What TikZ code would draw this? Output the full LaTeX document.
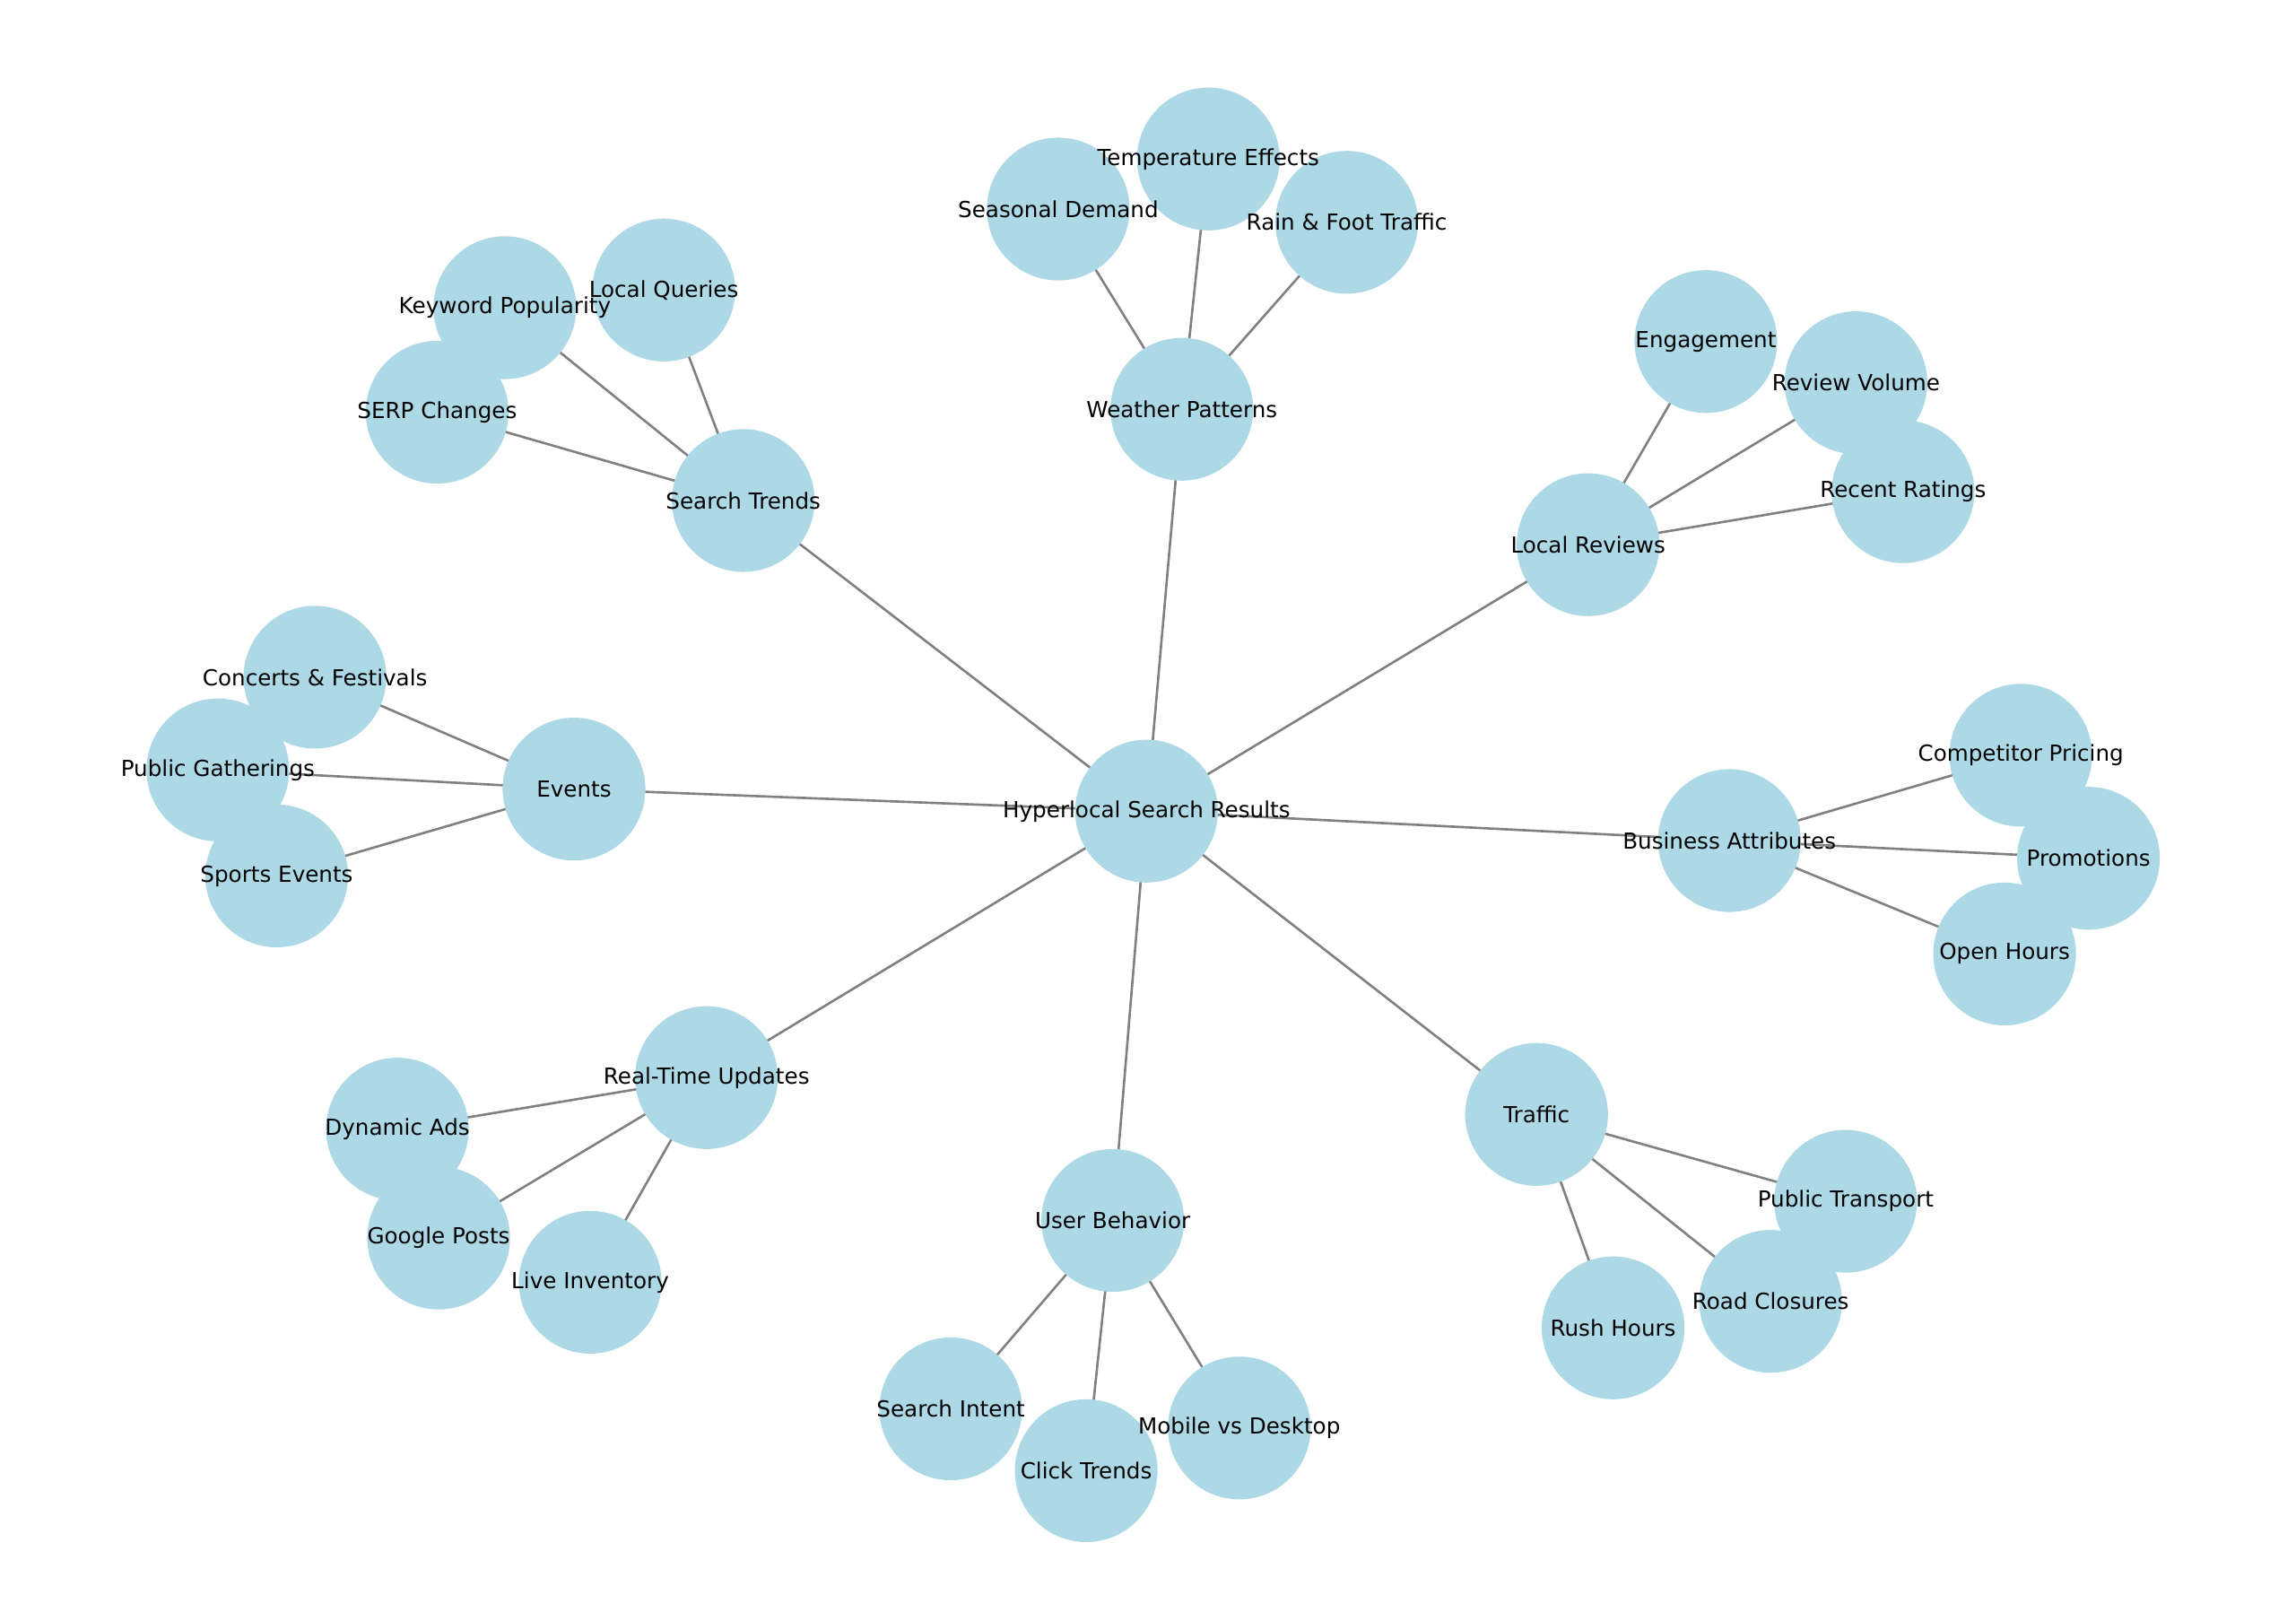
\documentclass[tikz,border=0pt]{standalone}
\usepackage{fontspec}
\setmainfont{DejaVu Sans}
\definecolor{lightblue}{RGB}{173,216,230}
\tikzset{
  bubble/.style={circle,fill=lightblue,minimum size=97pt,inner sep=0pt},
  tag/.style={font=\fontsize{15}{18}\selectfont,inner sep=0pt},
  link/.style={draw={rgb,255:red,128;green,128;blue,128},line width=1.6pt}
}
\begin{document}
\begin{tikzpicture}[x=1pt,y=-1pt]
  \useasboundingbox (0,0) rectangle (1560,1101);
  % nodes (circles first, labels later)
  \foreach \id/\px/\py in {hub/779/551,
      st/505/340,lq/451/197,kp/343/209,serp/297/280,
      wp/803/278,sd/719/142,te/821/108,rf/915/151,
      lr/1079/370,eng/1159/232,rv/1261/260,rr/1293/334,
      ba/1175/571,cp/1373/513,pr/1419/583,oh/1362/648,
      tr/1044/757,pt/1254/816,rc/1203/884,rh/1096/902,
      ub/756/829,si/646/957,ct/738/999,md/842/970,
      rt/480/732,da/270/767,gp/298/841,li/401/871,
      ev/390/536,cf/214/460,pg/148/523,se/188/595}
    \coordinate (\id) at (\px,\py);
  % edges
  \foreach \a/\b in {hub/st,hub/wp,hub/lr,hub/ba,hub/tr,hub/ub,hub/rt,hub/ev,
      st/lq,st/kp,st/serp,wp/sd,wp/te,wp/rf,lr/eng,lr/rv,lr/rr,
      ba/cp,ba/pr,ba/oh,tr/pt,tr/rc,tr/rh,ub/si,ub/ct,ub/md,
      rt/da,rt/gp,rt/li,ev/cf,ev/pg,ev/se}
    \draw[link] (\a) -- (\b);
  \foreach \id in {hub,st,lq,kp,serp,wp,sd,te,rf,lr,eng,rv,rr,ba,cp,pr,oh,
      tr,pt,rc,rh,ub,si,ct,md,rt,da,gp,li,ev,cf,pg,se}
    \node[bubble] (n-\id) at (\id) {};
  % labels
  \foreach \id/\txt in {hub/Hyperlocal Search Results,
      st/Search Trends,lq/Local Queries,kp/Keyword Popularity,serp/SERP Changes,
      wp/Weather Patterns,sd/Seasonal Demand,te/Temperature Effects,rf/Rain \& Foot Traffic,
      lr/Local Reviews,eng/Engagement,rv/Review Volume,rr/Recent Ratings,
      ba/Business Attributes,cp/Competitor Pricing,pr/Promotions,oh/Open Hours,
      tr/Traffic,pt/Public Transport,rc/Road Closures,rh/Rush Hours,
      ub/User Behavior,si/Search Intent,ct/Click Trends,md/Mobile vs Desktop,
      rt/Real-Time Updates,da/Dynamic Ads,gp/Google Posts,li/Live Inventory,
      ev/Events,cf/Concerts \& Festivals,pg/Public Gatherings,se/Sports Events}
    \node[tag] (t-\id) at (\id) {\txt};
\end{tikzpicture}
\end{document}
